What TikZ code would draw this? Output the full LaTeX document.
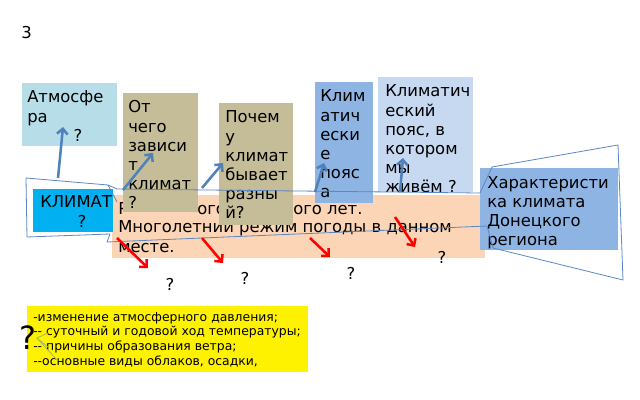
\documentclass[tikz,border=0pt]{standalone}
\usepackage{fontspec}
\setmainfont{DejaVu Sans}
\usetikzlibrary{arrows.meta,fit}
\definecolor{atmC}{HTML}{B7DEE8}
\definecolor{tanC}{HTML}{C4BD97}
\definecolor{beltC}{HTML}{8EB4E3}
\definecolor{ourC}{HTML}{C6D9F1}
\definecolor{defC}{HTML}{FBD5B5}
\definecolor{klimC}{HTML}{00B0F0}
\definecolor{arrC}{HTML}{4F81BD}
\definecolor{outC}{HTML}{5B87C4}
\definecolor{qlineC}{HTML}{9BBB59}
\definecolor{redC}{HTML}{FF0000}
\tikzset{
  boxfill/.style={inner sep=0pt, draw=none},
  bigtxt/.style={anchor=base west, align=left, inner sep=0pt, font=\fontsize{12.3}{14.3}\selectfont},
  smalltxt/.style={anchor=base west, align=left, inner sep=0pt, font=\fontsize{9.3}{11.2}\selectfont},
  qmark/.style={anchor=center, inner sep=0pt, font=\fontsize{12.3}{14.3}\selectfont},
  bluearrow/.style={draw=arrC, line width=1.9pt, -{Straight Barb[length=4pt,width=8pt]}},
  redarrow/.style={draw=redC, line width=1.9pt, -{Straight Barb[length=4pt,width=8pt]}},
  outline/.style={draw=outC, line width=0.6pt, line join=round},
  qline/.style={draw=qlineC, line width=0.6pt}
}
\begin{document}
\begin{tikzpicture}[x=0.75pt,y=-0.75pt]
\useasboundingbox[fill=white] (0,0) rectangle (640,400);

% slide number
\node[bigtxt] (num) at (21,38) {3};

% definition box (orange)
\node[boxfill, fill=defC, fit={(112,195) (485,258)}] (def) {};
\node[bigtxt] (defa) at (118,214) {Р};
\node[bigtxt] (defb) at (197,214) {ого};
\node[bigtxt] (defc) at (293,214) {ого лет.};
\node[bigtxt] (defd) at (118,252) {Многолетний режим погоды в данном\\месте.};

% boxes
\node[boxfill, fill=atmC, fit={(22,83) (117,146)}] (atm) {};
\node[bigtxt] (atmt) at (27,122) {Атмосфе\\ра};
\node[qmark] (atmq) at (78,135) {?};

\node[boxfill, fill=tanC, fit={(123,93) (198,212)}] (dep) {};
\node[bigtxt] (dept) at (128,208.3) {От\\чего\\зависи\\т\\климат\\?};

\node[boxfill, fill=tanC, fit={(219,103) (293,225)}] (why) {};
\node[bigtxt] (whyt) at (225,218.3) {Почем\\у\\климат\\бывает\\разны\\й?};

\node[boxfill, fill=beltC, fit={(315,82) (373,203)}] (belts) {};
\node[bigtxt] (beltst) at (320,197.3) {Клим\\атич\\ески\\е\\пояс\\а};

\node[boxfill, fill=ourC, fit={(378,77) (473,192)}] (our) {};
\node[bigtxt] (ourt) at (385,192.3) {Климатич\\еский\\пояс, в\\котором\\мы\\живём ?};

\node[boxfill, fill=beltC, fit={(480,168) (618,250)}] (don) {};
\node[bigtxt] (dont) at (487,245.2) {Характеристи\\ка климата\\Донецкого\\региона};

\node[boxfill, fill=klimC, fit={(33,189) (113,232)}] (klim) {};
\node[bigtxt] (klimt) at (40,207) {КЛИМАТ};
\node[qmark] (klimq) at (82,221) {?};

% outline shape
\coordinate (o1) at (117,189);
\coordinate (o2) at (480,193);
\coordinate (o3) at (492,167);
\coordinate (o4) at (618,145);
\coordinate (o5) at (623,280);
\coordinate (o6) at (493,248);
\coordinate (o7) at (487,226);
\coordinate (o8) at (107,242);
\coordinate (o9) at (110,234);
\coordinate (o10) at (27,237);
\coordinate (o11) at (26,178);
\coordinate (o12) at (108,185);
\coordinate (o13) at (117,202);
\draw[outline] (o1) -- (o2) -- (o3) -- (o4) -- (o5) -- (o6) -- (o7) -- (o8) -- (o9) -- (o10) -- (o11) -- (o12) -- (o1);
\draw[outline] (o12) -- (o13);

% blue arrows
\coordinate (a1s) at (58,178);  \coordinate (a1e) at (63,127);
\coordinate (a2s) at (123,190); \coordinate (a2e) at (153,153);
\coordinate (a3s) at (202,188); \coordinate (a3e) at (223,163);
\coordinate (a4s) at (315,192); \coordinate (a4e) at (324,163);
\coordinate (a5s) at (400,192); \coordinate (a5e) at (403,158);
\draw[bluearrow] (a1s) -- (a1e);
\draw[bluearrow] (a2s) -- (a2e);
\draw[bluearrow] (a3s) -- (a3e);
\draw[bluearrow] (a4s) -- (a4e);
\draw[bluearrow] (a5s) -- (a5e);

% red arrows and question marks
\coordinate (r1s) at (117,238); \coordinate (r1e) at (148,268);
\coordinate (r2s) at (202,238); \coordinate (r2e) at (223,263);
\coordinate (r3s) at (310,238); \coordinate (r3e) at (330,257);
\coordinate (r4s) at (395,217); \coordinate (r4e) at (415,247);
\draw[redarrow] (r1s) -- (r1e);
\draw[redarrow] (r2s) -- (r2e);
\draw[redarrow] (r3s) -- (r3e);
\draw[redarrow] (r4s) -- (r4e);
\node[qmark] (q1) at (170,284) {?};
\node[qmark] (q2) at (245,278) {?};
\node[qmark] (q3) at (351,273) {?};
\node[qmark] (q4) at (442,257) {?};

% yellow box
\node[boxfill, fill=yellow, fit={(27,306) (308,372)}] (yel) {};
\node[smalltxt] (yelt) at (33,365.8) {-изменение атмосферного давления;\\-{}- суточный и годовой ход температуры;\\-{}- причины образования ветра;\\-{}-основные виды облаков, осадки,};
\node[anchor=center, inner sep=0pt, font=\fontsize{24}{24}\selectfont] (bigq) at (28,338) {?};
\coordinate (l1) at (48,333);
\coordinate (l2) at (48,347);
\coordinate (l3) at (58,361);
\draw[qline] (bigq.east) -- (l1);
\draw[qline] (bigq.east) -- (l2);
\draw[qline] (bigq.east) -- (l3);
\end{tikzpicture}
\end{document}
